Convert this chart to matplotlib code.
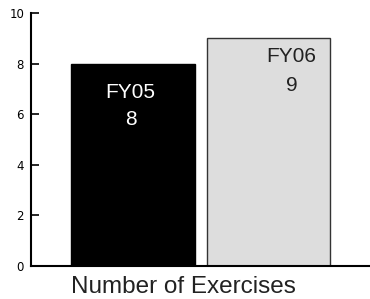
import matplotlib.pyplot as plt

# data
years = ['FY05', 'FY06']
counts = [8, 9]
colors = ['#000000', '#dddddd']
edges = ['#000000', '#333333']
xlabel = 'Number of Exercises'

fig = plt.figure(figsize=(3.7, 2.99), dpi=100)
ax = fig.add_axes([31/370, 1-266/299, 1-31/370, (266-13)/299])

xpos = [0.301, 0.7006]
ax.bar(xpos, counts, width=0.365, color=colors, edgecolor=edges, linewidth=1)

# labels inside bars
lab_x = [0.292, 0.768]
lab_y = [6.64, 8.06]
val_y = [5.57, 6.90]
txtcol = ['white', '#222222']
for i in range(len(years)):
    ax.text(lab_x[i], lab_y[i], years[i], ha='center', va='baseline',
            fontsize=15, color=txtcol[i], family='Liberation Sans')
    ax.text(lab_x[i] + 0.002, val_y[i], str(counts[i]), ha='center', va='baseline',
            fontsize=15, color=txtcol[i], family='Liberation Sans')

ax.set_xlim(0, 1)
ax.set_ylim(0, 10)
ax.set_yticks([0, 2, 4, 6, 8, 10])
ax.set_xticks([])
ax.tick_params(axis='y', direction='in', length=6, width=1.2, pad=5, labelsize=8.5)
for s in ['top', 'right']:
    ax.spines[s].set_visible(False)
ax.spines['left'].set_linewidth(1.5)
ax.spines['bottom'].set_linewidth(1.5)
ax.set_xlabel(xlabel, fontsize=17.5, family='Liberation Sans', color='#222222')
ax.xaxis.set_label_coords(0.45, -0.038, transform=ax.transAxes)
ax.xaxis.label.set_horizontalalignment('center')
ax.xaxis.label.set_verticalalignment('top')

fig.savefig('out.png', dpi=100)
